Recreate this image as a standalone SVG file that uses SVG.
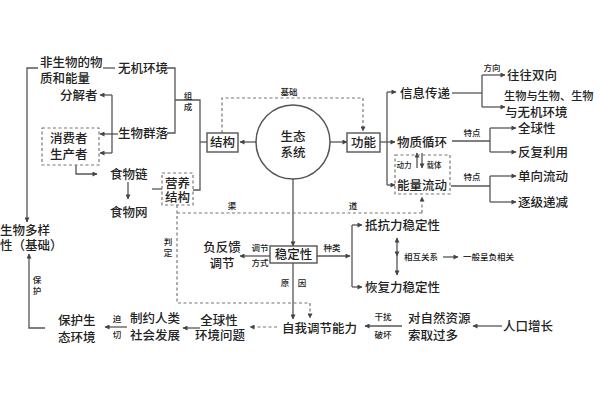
<svg xmlns="http://www.w3.org/2000/svg" width="600" height="400" viewBox="0 0 600 400">
<defs>
<marker id="ah" viewBox="0 0 10 10" refX="9" refY="5" markerUnits="userSpaceOnUse" markerWidth="6" markerHeight="5" orient="auto-start-reverse">
<path d="M0 0 L10 5 L0 10 Z" fill="#444"/>
</marker>
</defs>
<style>
text{font-family:"Liberation Serif","Noto Sans CJK SC",sans-serif;fill:#222;font-weight:500}
.t{font-size:12.5px}
.s{font-size:8.5px}
.xs{font-size:7.5px}
.m{text-anchor:middle}
.ln{fill:none;stroke:#555;stroke-width:1.3}
.ar{fill:none;stroke:#555;stroke-width:1.3;marker-end:url(#ah)}
.da{fill:none;stroke:#777;stroke-width:1.2;stroke-dasharray:3 2.5}
.dar{fill:none;stroke:#777;stroke-width:1.2;stroke-dasharray:3 2.5;marker-end:url(#ah)}
.box{fill:#fff;stroke:#555;stroke-width:1.4}
.dbox{fill:none;stroke:#777;stroke-width:1.2;stroke-dasharray:3 2.5}
</style>
<rect width="600" height="400" fill="#fff"/>
<g id="connectors">
<path class="ar" d="M38 68 H27 V222"/>
<path class="ln" d="M103 68 H115"/>
<path class="ln" d="M167 68 H175 V133 H167"/>
<path class="ln" d="M175 100 H200 V190 H193"/>
<path class="ln" d="M200 142 H207"/>
<path class="ar" d="M118 134 H100"/>
<path class="ln" d="M112 95 V153"/>
<path class="ar" d="M112 95 H100"/>
<path class="ar" d="M112 153 H100"/>
<path class="ar" d="M76 165 V174 H97"/>
<path class="ar" d="M128 182 V199"/>
<path class="ln" d="M152 189 H162"/>
<path class="ar" d="M256 142 H240"/>
<path class="ar" d="M330 142 H347"/>
<path class="dar" d="M222 133 V98 H363 V131"/>
<path class="ar" d="M293 179 V246"/>
<path class="ln" d="M380 142 H387"/>
<path class="ln" d="M387 92 V185"/>
<path class="ar" d="M387 92 H396"/>
<path class="ar" d="M387 142 H395"/>
<path class="ar" d="M387 185 H395"/>
<path class="ln" d="M452 93 H482"/>
<path class="ln" d="M482 75 V107"/>
<path class="ar" d="M482 75 H505"/>
<path class="ar" d="M482 107 H505"/>
<path class="ln" d="M452 141 H490"/>
<path class="ln" d="M490 128 V152"/>
<path class="ar" d="M490 128 H516"/>
<path class="ar" d="M490 152 H516"/>
<path class="ln" d="M451 186 H490"/>
<path class="ln" d="M490 176 V202"/>
<path class="ar" d="M490 176 H516"/>
<path class="ar" d="M490 202 H516"/>
<path class="ar" d="M417 168 V153"/>
<path class="ar" d="M422 153 V168"/>
<path class="da" d="M177 205 V303 H310"/>
<path class="dar" d="M310 303 V318"/>
<path class="da" d="M177 213 H422"/>
<path class="dar" d="M422 213 V197"/>
<path class="ar" d="M270 256 H240"/>
<path class="ar" d="M317 256 H350"/>
<path class="ln" d="M352 225 V287"/>
<path class="ar" d="M352 225 H362"/>
<path class="ar" d="M352 287 H362"/>
<path class="ar" d="M397 256 V238" style="marker-start:url(#ah)"/>
<path class="ar" d="M397 256 V275"/>
<path class="ar" d="M443 257 H458"/>
<path class="ar" d="M293 263 V319"/>
<path class="ar" d="M402 326 H365"/>
<path class="ar" d="M502 326 H473"/>
<path class="dar" d="M277 327 H250"/>
<path class="ar" d="M200 328 H183"/>
<path class="ar" d="M127 327 H105"/>
<path class="ar" d="M45 328 H29 V254"/>
</g>
<g class="s">
<text x="188" y="99" class="m">组</text>
<text x="188" y="110" class="m">成</text>
<text x="289" y="95" class="m">基础</text>
<text x="232" y="209" class="m">渠</text>
<text x="353" y="209" class="m">道</text>
<text x="168" y="245" class="m">判</text>
<text x="168" y="256" class="m">定</text>
<text x="260" y="251" class="m">调节</text>
<text x="260" y="266" class="m">方式</text>
<text x="332" y="251" class="m">种类</text>
<text x="285" y="286" class="m">原</text>
<text x="302" y="286" class="m">因</text>
<text x="421" y="260" class="m">相互关系</text>
<text x="463" y="260">一般呈负相关</text>
<text x="383" y="320" class="m">干扰</text>
<text x="383" y="338" class="m">破坏</text>
<text x="117" y="322" class="m">迫</text>
<text x="117" y="338" class="m">切</text>
<text x="37" y="283" class="m">保</text>
<text x="37" y="294" class="m">护</text>
<text x="404" y="168" class="m xs">动力</text>
<text x="434" y="168" class="m xs">载体</text>
<text x="472" y="136" class="m">特点</text>
<text x="472" y="180" class="m">特点</text>
<text x="492" y="71" class="m">方向</text>
</g>
<g id="abiotic" class="t"><text x="40" y="66.5">非生物的物</text><text x="40" y="82.5">质和能量</text></g>
<g id="inorganic-env" class="t"><text x="118" y="72.5">无机环境</text></g>
<g id="decomposer" class="t"><text x="60" y="99.5">分解者</text></g>
<g id="community" class="t"><text x="118" y="137.5">生物群落</text></g>
<g id="consumers-producers"><rect class="dbox" x="42" y="128" width="57" height="37"/><text class="t" x="50" y="142.5">消费者</text><text class="t" x="50" y="158.5">生产者</text></g>
<g id="food-chain" class="t"><text x="110" y="178.5">食物链</text></g>
<g id="food-web" class="t"><text x="110" y="216.5">食物网</text></g>
<g id="trophic-structure"><rect class="dbox" x="162" y="173" width="31" height="32"/><text class="t m" x="177.5" y="187.5">营养</text><text class="t m" x="177.5" y="201.5">结构</text></g>
<g id="structure"><rect class="box" x="207" y="133" width="31" height="19"/><text class="t m" x="222.5" y="146.5">结构</text></g>
<g id="ecosystem"><circle cx="293" cy="142" r="37" fill="#fff" stroke="#555" stroke-width="1.5"/><text class="t m" x="293" y="140.5">生态</text><text class="t m" x="293" y="156.5">系统</text></g>
<g id="function"><rect class="box" x="347" y="133" width="33" height="19"/><text class="t m" x="363.5" y="146.5">功能</text></g>
<g id="info" class="t"><text x="400" y="97.5">信息传递</text></g>
<g id="matter" class="t"><text x="397" y="146.5">物质循环</text></g>
<g id="energy"><rect class="dbox" x="395" y="155" width="55" height="39"/><text class="t" x="397" y="189.5">能量流动</text></g>
<g id="bidirectional" class="t"><text x="507" y="79.5">往往双向</text></g>
<g id="between"><text x="504" y="99.5" style="font-size:11.2px">生物与生物、生物</text><text class="t" x="505" y="116.5">与无机环境</text></g>
<g id="global" class="t"><text x="518" y="132.5">全球性</text></g>
<g id="reuse" class="t"><text x="518" y="156.5">反复利用</text></g>
<g id="one-way" class="t"><text x="518" y="180.5">单向流动</text></g>
<g id="decrease" class="t"><text x="518" y="206.5">逐级递减</text></g>
<g id="resistance" class="t"><text x="365" y="229.5">抵抗力稳定性</text></g>
<g id="resilience" class="t"><text x="365" y="291.5">恢复力稳定性</text></g>
<g id="stability"><rect class="box" x="270" y="246" width="47" height="17"/><text class="t m" x="293.5" y="259">稳定性</text></g>
<g id="neg-feedback"><text class="t m" x="222" y="251.5">负反馈</text><text class="t m" x="222" y="267.5">调节</text></g>
<g id="biodiversity" class="t"><text x="0" y="234.5">生物多样</text><text x="0" y="249.5">性（基础）</text></g>
<g id="self-regulation" class="t"><text x="282" y="332.5">自我调节能力</text></g>
<g id="overuse" class="t"><text x="408" y="322.5">对自然资源</text><text x="408" y="339.5">索取过多</text></g>
<g id="population" class="t"><text x="503" y="330.5">人口增长</text></g>
<g id="global-issues"><text class="t m" x="219" y="324.5">全球性</text><text class="t m" x="220" y="339.5">环境问题</text></g>
<g id="restrict" class="t"><text x="130" y="322.5">制约人类</text><text x="130" y="339.5">社会发展</text></g>
<g id="protect" class="t"><text x="58" y="324.5">保护生</text><text x="58" y="341.5">态环境</text></g>
</svg>
